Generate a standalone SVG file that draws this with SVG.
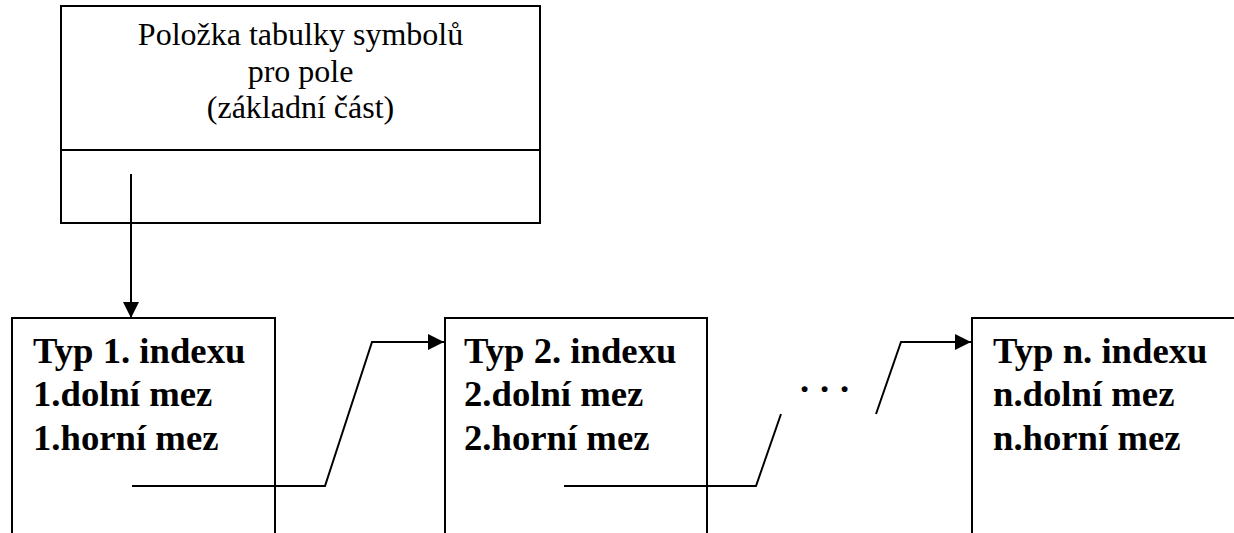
<svg xmlns="http://www.w3.org/2000/svg" width="1234" height="533" viewBox="0 0 1234 533">
<style>
.box{fill:#fff;stroke:#000;stroke-width:2}
.con{fill:none;stroke:#000;stroke-width:2}
.t{font-family:"Liberation Serif","Times New Roman",serif;fill:#000}
.hd{font-size:32px;text-anchor:middle}
.bd{font-size:36.7px;font-weight:bold}
</style>
<defs>
<marker id="ah" viewBox="0 0 16 16" refX="16" refY="8" markerWidth="16" markerHeight="16" markerUnits="userSpaceOnUse" orient="auto">
<path d="M0,0 L16,8 L0,16 Z" fill="#000"/>
</marker>
</defs>
<g id="symbol-entry">
<rect class="box" x="61" y="6" width="479" height="217"/>
<line class="con" x1="61" y1="150" x2="540" y2="150"/>
<text class="t hd" x="300.5" y="45">Položka tabulky symbolů</text>
<text class="t hd" x="300.5" y="82">pro pole</text>
<text class="t hd" x="300.5" y="118">(základní část)</text>
</g>
<g id="index1">
<path class="box" d="M12,540 V318 H275 V540"/>
<text class="t bd" x="33" y="363">Typ 1. indexu</text>
<text class="t bd" x="33" y="406">1.dolní mez</text>
<text class="t bd" x="33" y="450">1.horní mez</text>
</g>
<g id="index2">
<path class="box" d="M445,540 V318 H707 V540"/>
<text class="t bd" x="464" y="363">Typ 2. indexu</text>
<text class="t bd" x="464" y="406">2.dolní mez</text>
<text class="t bd" x="464" y="450">2.horní mez</text>
</g>
<g id="indexn">
<path class="box" d="M972,540 V318 H1240"/>
<text class="t bd" x="993" y="363">Typ n. indexu</text>
<text class="t bd" x="993" y="406">n.dolní mez</text>
<text class="t bd" x="993" y="450">n.horní mez</text>
</g>
<g id="ellipsis">
<text class="t bd" x="800 820 840" y="392">...</text>
</g>
<g id="connectors">
<path class="con" d="M131,174 V318" marker-end="url(#ah)"/>
<path class="con" d="M132,486 H325 L372,342 H444" marker-end="url(#ah)"/>
<path class="con" d="M564,486 H756 L781,414"/>
<path class="con" d="M876,414 L901,342 H971" marker-end="url(#ah)"/>
</g>
</svg>
